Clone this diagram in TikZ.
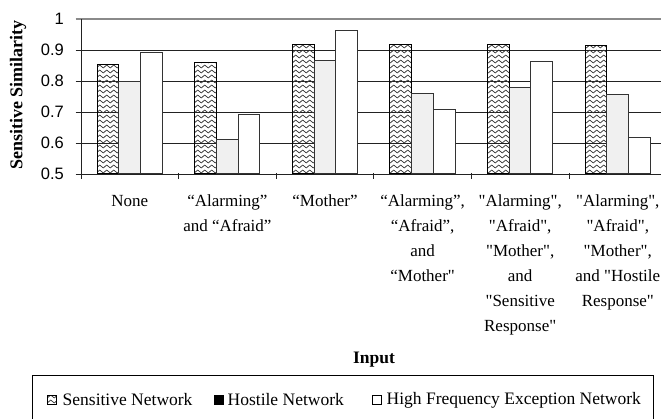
\documentclass[tikz,border=0pt]{standalone}
\usepackage{fontspec}
\setmainfont{Liberation Serif}
\newfontfamily\tickfont{Liberation Sans}
\usetikzlibrary{patterns}

% a straight double quote, set as a glyph so that no curly mapping applies
\newcommand\sdq{\XeTeXglyph\XeTeXcharglyph"22 }

% wavy rows used for the "Sensitive Network" series
\pgfdeclarepatternformonly{waverows}{\pgfqpoint{-0.5pt}{-0.5pt}}{\pgfqpoint{7.5pt}{5.5pt}}{\pgfqpoint{7pt}{5pt}}{%
  \pgfsetlinewidth{0.7pt}%
  \pgfpathmoveto{\pgfqpoint{0pt}{2.5pt}}%
  \pgfpathcurveto{\pgfqpoint{1.2pt}{4.4pt}}{\pgfqpoint{2.3pt}{4.4pt}}{\pgfqpoint{3.5pt}{2.5pt}}%
  \pgfpathcurveto{\pgfqpoint{4.7pt}{0.6pt}}{\pgfqpoint{5.8pt}{0.6pt}}{\pgfqpoint{7pt}{2.5pt}}%
  \pgfusepath{stroke}%
}

\definecolor{hostfill}{HTML}{F0F0F0}
\definecolor{gridc}{HTML}{222222}
\definecolor{topgrid}{HTML}{8A8A8A}
\definecolor{barline}{HTML}{333333}

\tikzset{
  sensbar/.style={draw=black, line width=0.8pt, pattern=waverows, pattern color=black!80},
  hostbar/.style={draw=barline, line width=0.8pt, fill=hostfill},
  hfbar/.style={draw=barline, line width=0.8pt, fill=white},
  gridline/.style={draw=gridc, line width=0.8pt},
  ylab/.style={anchor=east, inner sep=0pt, font=\tickfont\fontsize{16.5}{18}\selectfont},
  catlab/.style={anchor=north, inner sep=0pt, align=center, font=\fontsize{17}{25}\selectfont},
  legtext/.style={anchor=west, inner sep=0pt, font=\fontsize{17.5}{20}\selectfont},
  legicon/.style={draw=black, line width=0.6pt, minimum size=9pt, inner sep=0pt},
}

\begin{document}
\begin{tikzpicture}[x=1pt, y=-1pt]
  \useasboundingbox (0,0) rectangle (661,419);
  \clip (0,0) rectangle (661,419);

  % horizontal gridlines (0.5 is the category axis)
  \foreach \v in {0.5,0.6,0.7,0.8,0.9} {
    \draw[gridline] (75.5,{19+(1-\v)*310}) -- (670,{19+(1-\v)*310});
  }
  \draw[topgrid, line width=1.2pt] (75.5,19) -- (670,19);

  % value axis
  \draw[gridc, line width=0.8pt] (81.7,19) -- (81.7,179);
  % category tick marks
  \foreach \k in {1,...,5} {
    \draw[gridc, line width=0.8pt] ({81+97.6*\k},173) -- ({81+97.6*\k},179);
  }

  % value labels
  \node[ylab] (y10) at (64,19) {1};
  \node[ylab] (y09) at (64,{19+0.1*310}) {0.9};
  \node[ylab] (y08) at (64,{19+0.2*310}) {0.8};
  \node[ylab] (y07) at (64,{19+0.3*310}) {0.7};
  \node[ylab] (y06) at (64,{19+0.4*310}) {0.6};
  \node[ylab] (y05) at (64,{19+0.5*310}) {0.5};

  % bars: sensitive / hostile / high frequency exception
  \foreach \k/\s/\h/\f in {0/0.854/0.800/0.891, 1/0.860/0.610/0.693, 2/0.918/0.868/0.962,
                           3/0.918/0.759/0.709, 4/0.918/0.780/0.863, 5/0.914/0.757/0.618} {
    \pgfmathsetmacro\xa{81+97.6*\k+16}
    \draw[sensbar] (\xa,173) rectangle ({\xa+21.7},{19+(1-\s)*310});
    \draw[hostbar] ({\xa+21.7},173) rectangle ({\xa+43.4},{19+(1-\h)*310});
    \draw[hfbar]   ({\xa+43.4},173) rectangle ({\xa+65.1},{19+(1-\f)*310});
  }

  % axis titles
  \node[rotate=90, inner sep=0pt, font=\bfseries\fontsize{18}{20}\selectfont] (ytitle) at (18,95) {Sensitive Similarity};
  \node[inner sep=0pt, font=\bfseries\fontsize{17.5}{20}\selectfont] (xtitle) at (374,360) {Input};

  % category labels
  \node[catlab] (c1) at (129.8,195) {None};
  \node[catlab] (c2) at (227.4,195) {“Alarming”\\and “Afraid”};
  \node[catlab] (c3) at (325.0,195) {“Mother”};
  \node[catlab] (c4) at (422.6,195) {“Alarming”,\\“Afraid”,\\and\\“Mother\sdq};
  \node[catlab] (c5) at (520.2,195) {\sdq Alarming\sdq,\\\sdq Afraid\sdq,\\\sdq Mother\sdq,\\and\\\sdq Sensitive\\Response\sdq};
  \node[catlab] (c6) at (617.8,195) {\sdq Alarming\sdq,\\\sdq Afraid\sdq,\\\sdq Mother\sdq,\\and \sdq Hostile\\Response\sdq};

  % legend
  \draw[black, line width=0.8pt] (32.3,430) -- (32.3,375.7) -- (653,375.7) -- (653,430);
  \node[legicon, pattern=waverows, pattern color=black!80] (li1) at (51.5,400) {};
  \node[legtext] (lt1) at (62.5,400) {Sensitive Network};
  \node[legicon, fill=black] (li2) at (218.5,400) {};
  \node[legtext] (lt2) at (227.5,400) {Hostile Network};
  \node[legicon, fill=white] (li3) at (376.5,400) {};
  \node[legtext] (lt3) at (386.5,400) {High Frequency Exception Network};
\end{tikzpicture}
\end{document}
